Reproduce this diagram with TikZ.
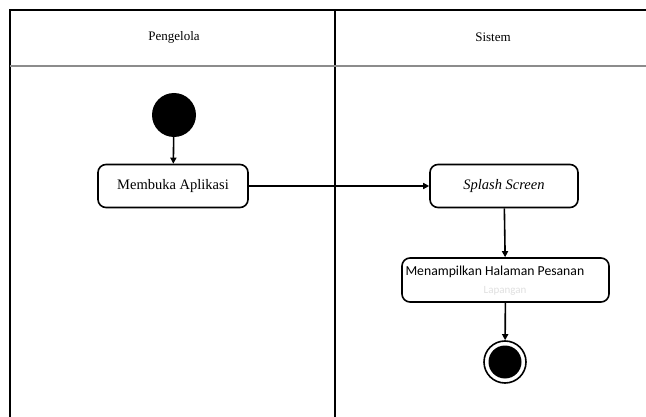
\documentclass[tikz,border=0pt]{standalone}
\usepackage{fontspec}
\setmainfont{Liberation Serif}
\newfontfamily\uisans{Carlito}
\usetikzlibrary{arrows.meta}
\begin{document}
\begin{tikzpicture}[x=1pt,y=-1pt,
  lane/.style={line width=1.6pt,draw=black},
  headsep/.style={line width=1.2pt,draw=black!45},
  action/.style={draw,line width=1.6pt,rounded corners=8pt,fill=white,inner sep=0pt},
  flow/.style={line width=1.6pt,-{Triangle[length=6pt,width=6pt]}},
  lanetitle/.style={font=\fontsize{13}{15}\selectfont}]
\useasboundingbox (0,0) rectangle (646,417);
% swimlane frame
\draw[lane] (10,417) -- (10,10) -- (646,10);
\draw[lane] (335,10) -- (335,417);
\draw[headsep] (10,66) -- (646,66);
\node[lanetitle] (lane1) at (174,37) {Pengelola};
\node[lanetitle] (lane2) at (493,37) {Sistem};
% nodes
\node[circle,fill=black,minimum size=44pt,inner sep=0pt] (start) at (174,115) {};
\node[action,minimum width=150pt,minimum height=43pt,font=\fontsize{14.5}{16}\selectfont] (open) at (173,186) {Membuka Aplikasi};
\node[action,minimum width=148pt,minimum height=43pt,font=\fontsize{14.5}{16}\selectfont\itshape] (splash) at (504,186) {Splash Screen};
\node[action,minimum width=207pt,minimum height=44pt] (list) at (505.5,280) {};
\node[font=\uisans\fontsize{13.7}{15}\selectfont,anchor=west] (listtxt) at (402,272) {Menampilkan Halaman Pesanan};
\node[font=\uisans\fontsize{11}{13}\selectfont,text=black!12] (listtxt2) at (505,291) {Lapangan};
\node[circle,draw,line width=1.6pt,minimum size=42pt,inner sep=0pt] (end) at (505,362) {};
\node[circle,fill=black,minimum size=33pt,inner sep=0pt] (endcore) at (505,362) {};
% flow
\draw[flow] (start) -- (open);
\draw[flow] (open) -- (splash);
\draw[flow] (splash) -- (list);
\draw[flow] (list) -- (end);
\end{tikzpicture}
\end{document}
